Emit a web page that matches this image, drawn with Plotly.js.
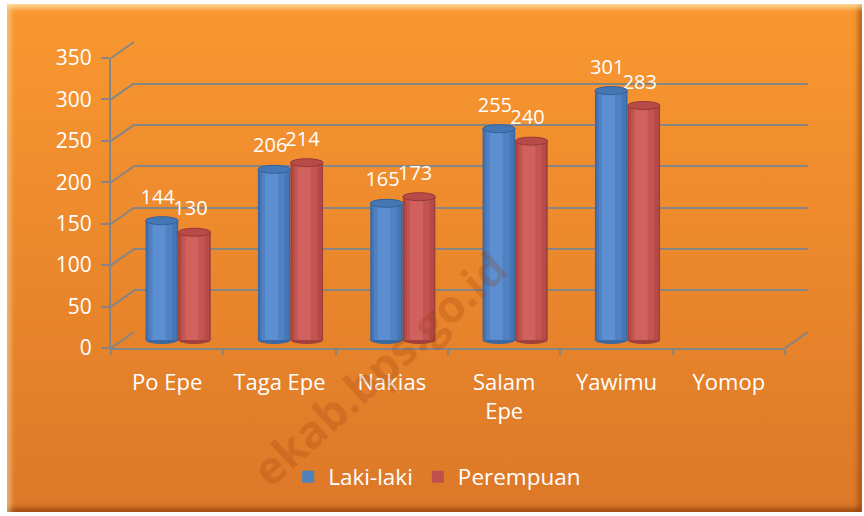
<!DOCTYPE html>
<html><head><meta charset="utf-8">
<script src="https://cdn.plot.ly/plotly-3.0.1.min.js"></script>
<style>
html,body{margin:0;padding:0;background:#fff;overflow:hidden;}
#frame{position:absolute;left:7px;top:4px;width:855px;height:508px;
  background:linear-gradient(#F99831,#DC7828);
  box-shadow: inset 0 7px 5px -3px rgba(255,235,180,0.75), inset 7px 0 5px -3px rgba(255,225,170,0.5),
              inset -7px 0 5px -3px rgba(140,55,0,0.55), inset 0 -7px 5px -3px rgba(120,45,0,0.6);}
#chart{position:absolute;left:0;top:0;width:864px;height:516px;}
</style></head>
<body><div id="frame"></div><div id="chart"></div>
<script>
// ---- data ----
const categories = ['Po Epe', 'Taga Epe', 'Nakias', 'Salam<br>Epe', 'Yawimu', 'Yomop'];
const lakiLaki   = [144, 206, 165, 255, 301, null];
const perempuan  = [130, 214, 173, 240, 283, null];
const yTickVals  = [0, 50, 100, 150, 200, 250, 300, 350];
const seriesNames = ['Laki-laki', 'Perempuan'];

// ---- geometry (pixels) ----
const W = 864, H = 516, YMAX = 350;
const px = x => x / W, py = y => 1 - y / H;
const front = {x0: 111, x1: 785, y0: 348, y1: 58};   // front axis plane
const back  = {x0: 134, x1: 808, y0: 332, y1: 42};   // back wall plane (grid)
const mid   = {x0: 122, x1: 796, y0: 340, y1: 50};   // bars plane
const lbl   = {x0: 118, x1: 792, y0: 332, y1: 42};   // data-label plane

const gridCol = '#858585';
const white = '#FFFFFF';
const FONT = 'Open Sans, Noto Sans, sans-serif';

const pxPerUnit = (mid.y0 - mid.y1) / YMAX;
const barW = 0.29;
const ellH = 4 / pxPerUnit;          // half height of cylinder ellipse, data units
const yLow = -2.2 * ellH;            // room below zero for the rounded cylinder bottoms
const shades = {
  blue: {base: '#3B68A2', top: '#4677B5', rim: '#35609A',
         strips: [[0.05, 0.95, '#4776B5'], [0.12, 0.82, '#5082C3'], [0.22, 0.62, '#5B8FD1']]},
  red:  {base: '#A13F3C', top: '#B84A47', rim: '#963936',
         strips: [[0.05, 0.95, '#B54A47'], [0.12, 0.82, '#C25551'], [0.22, 0.62, '#D0615D']]}
};

function barTraces(vals, name, off, shade, legendColor) {
  const out = [];
  out.push({
    type: 'bar', x: categories, y: vals, xaxis: 'x3', yaxis: 'y3',
    offset: off, width: barW, marker: {color: shade.base, line: {width: 0}},
    showlegend: false, hoverinfo: 'skip'
  });
  shade.strips.forEach(s => {
    out.push({
      type: 'bar', x: categories, y: vals, xaxis: 'x3', yaxis: 'y3',
      offset: off + barW * s[0], width: barW * (s[1] - s[0]),
      marker: {color: s[2], line: {width: 0}}, showlegend: false, hoverinfo: 'skip'
    });
  });
  // data labels (transparent bars on a slightly raised plane)
  out.push({
    type: 'bar', x: categories, y: vals, xaxis: 'x4', yaxis: 'y4',
    offset: off, width: barW, marker: {color: 'rgba(0,0,0,0)', line: {width: 0}},
    text: vals.map(v => v == null ? '' : String(v)), textposition: 'outside',
    textfont: {color: white, size: 20, family: FONT}, constraintext: 'none', cliponaxis: false,
    showlegend: false, hoverinfo: 'skip'
  });
  // legend entry
  out.push({type: 'bar', x: [null], y: [null], name: name, xaxis: 'x3', yaxis: 'y3',
    marker: {color: legendColor}, showlegend: true});
  return out;
}

const traces = [
  {type: 'scatter', x: [categories[0]], y: [null], xaxis: 'x', yaxis: 'y', showlegend: false, hoverinfo: 'skip'},
  {type: 'scatter', x: [categories[0]], y: [null], xaxis: 'x2', yaxis: 'y2', showlegend: false, hoverinfo: 'skip'},
  ...barTraces(lakiLaki, seriesNames[0], -barW, shades.blue, '#4F81BD'),
  ...barTraces(perempuan, seriesNames[1], 0, shades.red, '#C0504D')
];

const shapes = [];
// 3D wall diagonals
yTickVals.forEach(v => {
  const yf = front.y0 + (front.y1 - front.y0) * v / YMAX;
  const yb = back.y0 + (back.y1 - back.y0) * v / YMAX;
  shapes.push({type: 'line', xref: 'paper', yref: 'paper', x0: px(front.x0), y0: py(yf), x1: px(back.x0), y1: py(yb),
    line: {color: gridCol, width: 2}, layer: 'below'});
});
shapes.push({type: 'line', xref: 'paper', yref: 'paper', x0: px(front.x1), y0: py(front.y0), x1: px(back.x1), y1: py(back.y0),
  line: {color: gridCol, width: 2}, layer: 'below'});

// cylinder ends (ellipses) for each bar
[[lakiLaki, -barW, shades.blue], [perempuan, 0, shades.red]].forEach(([vals, off, sh]) => {
  vals.forEach((v, i) => {
    if (v == null) return;
    shapes.push({type: 'circle', xref: 'x3', yref: 'y3', x0: i + off, x1: i + off + barW,
      y0: -ellH, y1: ellH, fillcolor: sh.base, line: {width: 0}, layer: 'below'});
    shapes.push({type: 'circle', xref: 'x3', yref: 'y3', x0: i + off, x1: i + off + barW,
      y0: v - ellH, y1: v + ellH, fillcolor: sh.top, line: {color: sh.rim, width: 1}, layer: 'above'});
  });
});

const catRange = [-0.5, categories.length - 0.5];
const layout = {
  width: W, height: H,
  paper_bgcolor: 'rgba(0,0,0,0)', plot_bgcolor: 'rgba(0,0,0,0)',
  margin: {l: 0, r: 0, t: 0, b: 0},
  font: {family: FONT, color: white, size: 21},
  barmode: 'overlay',
  showlegend: true,
  legend: {orientation: 'h', x: 0.506, xanchor: 'center', y: py(477), yanchor: 'middle',
    font: {size: 22.5, color: white, family: FONT}, bgcolor: 'rgba(0,0,0,0)', itemwidth: 30, traceorder: 'normal'},
  // back wall grid
  xaxis: {domain: [px(back.x0), px(back.x1)], anchor: 'y', type: 'category', categoryarray: categories,
    range: catRange, showticklabels: false, showgrid: false, zeroline: false, showline: false, ticks: ''},
  yaxis: {domain: [py(back.y0), py(back.y1)], anchor: 'x', range: [-0.3, YMAX + 0.3], tickvals: yTickVals,
    showticklabels: false, showgrid: true, gridcolor: gridCol, gridwidth: 2,
    zeroline: false, showline: false, ticks: ''},
  // front axes
  xaxis2: {domain: [px(front.x0), px(front.x1)], anchor: 'y2', type: 'category', categoryarray: categories,
    range: catRange, showgrid: false, zeroline: false, showline: true, linecolor: gridCol, linewidth: 2,
    ticks: 'outside', tickson: 'boundaries', ticklen: 5, tickwidth: 2, tickcolor: gridCol,
    tickfont: {size: 22, color: white, family: FONT}, ticklabelstandoff: 14},
  yaxis2: {domain: [py(front.y0), py(front.y1)], anchor: 'x2', range: [0, YMAX], tickvals: yTickVals,
    showgrid: false, zeroline: false, showline: true, linecolor: gridCol, linewidth: 2,
    ticks: 'outside', ticklen: 8, tickwidth: 2, tickcolor: gridCol,
    tickfont: {size: 21, color: white, family: FONT}, ticklabelstandoff: 5},
  // bars plane (extended a little below zero so the rounded bottoms are not clipped)
  xaxis3: {domain: [px(mid.x0), px(mid.x1)], anchor: 'y3', type: 'category', categoryarray: categories,
    range: catRange, visible: false},
  yaxis3: {domain: [py(mid.y0 - yLow * pxPerUnit), py(mid.y1)], anchor: 'x3', range: [yLow, YMAX], visible: false},
  // label plane
  xaxis4: {domain: [px(lbl.x0), px(lbl.x1)], anchor: 'y4', type: 'category', categoryarray: categories,
    range: catRange, visible: false},
  yaxis4: {domain: [py(lbl.y0), py(lbl.y1)], anchor: 'x4', range: [0, YMAX], visible: false},
  shapes: shapes,
  annotations: [{
    text: '<b>ekab.bps.go.id</b>', xref: 'paper', yref: 'paper', x: px(378), y: py(368),
    xanchor: 'center', yanchor: 'middle',
    showarrow: false, textangle: -42, font: {size: 45, color: 'rgba(150,55,10,0.22)', family: FONT}
  }]
};

Plotly.newPlot('chart', traces, layout, {displayModeBar: false, staticPlot: true});
</script>
</body></html>
